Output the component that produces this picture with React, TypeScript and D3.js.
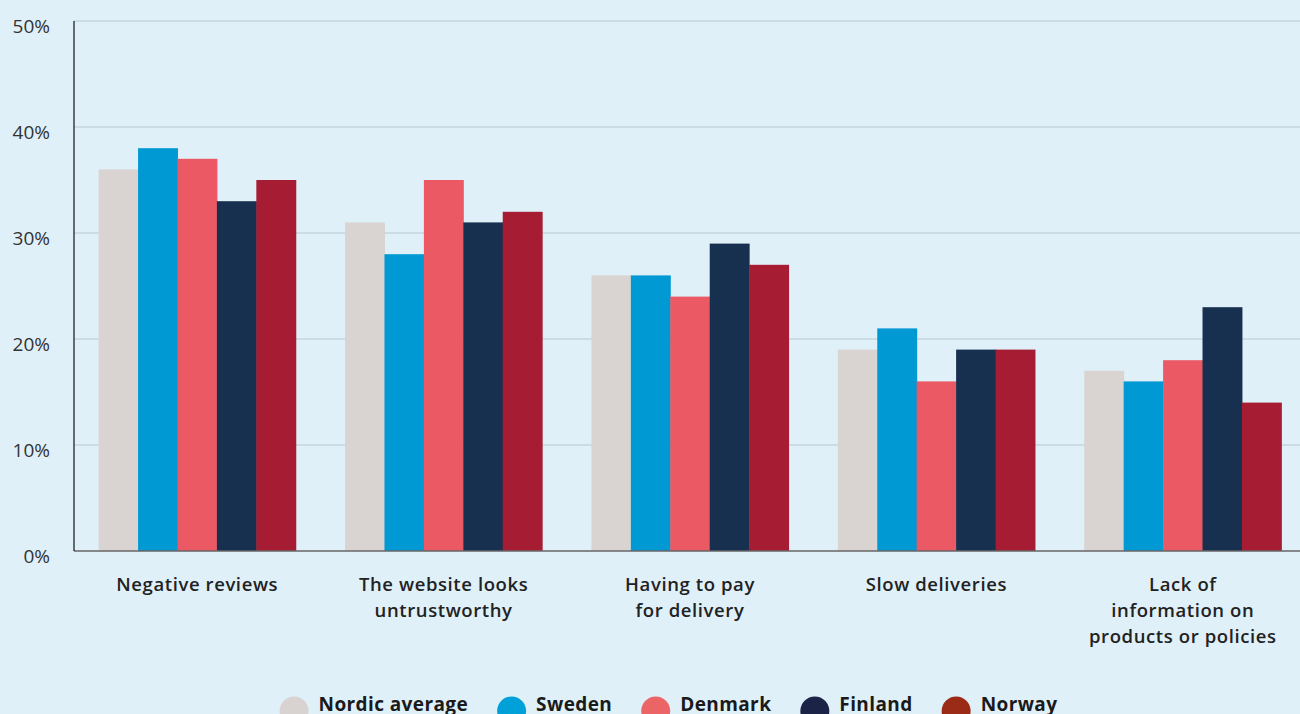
import React, { useEffect, useRef } from "react";
import * as d3 from "d3";

const categories: string[][] = [
  ["Negative reviews"],
  ["The website looks", "untrustworthy"],
  ["Having to pay", "for delivery"],
  ["Slow deliveries"],
  ["Lack of", "information on", "products or policies"],
];
const seriesNames = ["Nordic average", "Sweden", "Denmark", "Finland", "Norway"];
const nordicAverage = [36, 31, 26, 19, 17];
const sweden = [38, 28, 26, 21, 16];
const denmark = [37, 35, 24, 16, 18];
const finland = [33, 31, 29, 19, 23];
const norway = [35, 32, 27, 19, 14];
const yTicks = [0, 10, 20, 30, 40, 50];

const barColors = ["#D9D4D1", "#0099D3", "#EB5A64", "#17304F", "#A61C33"];
const legendColors = ["#D8D3D0", "#00A0D8", "#EB6466", "#1B2447", "#9B2A16"];

const W = 1300;
const H = 714;
const margin = { left: 74, right: -6, top: 21, bottom: 163 };
const FONT = "'Open Sans', sans-serif";

export default function App() {
  const legendRef = useRef<SVGGElement>(null);
  const values = [nordicAverage, sweden, denmark, finland, norway];

  const x0 = d3
    .scaleBand<number>()
    .domain(categories.map((_, i) => i))
    .range([margin.left, W - margin.right])
    .paddingInner(0.2)
    .paddingOuter(0.1);
  const x1 = d3
    .scaleBand<number>()
    .domain(seriesNames.map((_, i) => i))
    .range([0, x0.bandwidth()]);
  const y = d3.scaleLinear().domain([0, 50]).range([H - margin.bottom, margin.top]);

  useEffect(() => {
    const g = d3.select(legendRef.current);
    if (!g.node()) return;
    const items = g.selectAll<SVGGElement, unknown>("g.item").nodes();
    const r = 14.5;
    const gapCT = 10;
    const gapTC = 29;
    const widths = items.map((n) => (n.querySelector("text") as SVGTextElement).getComputedTextLength());
    const total = widths.reduce((a, w) => a + 2 * r + gapCT + w, 0) + gapTC * (items.length - 1);
    let xPos = 668.5 - total / 2;
    items.forEach((n, i) => {
      d3.select(n).attr("transform", `translate(${xPos},0)`);
      xPos += 2 * r + gapCT + widths[i] + gapTC;
    });
  }, []);

  return (
    <svg width={W} height={H} style={{ display: "block", position: "absolute", left: 0, top: 0, background: "#E0F0F9" }}>
      <rect x={0} y={0} width={W} height={H} fill="#E0F0F9" />
      {yTicks.map((t) => (
        <g key={t}>
          {t > 0 && (
            <line x1={margin.left} x2={W} y1={y(t)} y2={y(t)} stroke="#B8C8D2" strokeWidth={1} />
          )}
          <text
            x={50}
            y={y(t) + 12}
            textAnchor="end"
            fontFamily={FONT}
            fontSize={19}
            fill="#333"
          >
            {t}%
          </text>
        </g>
      ))}
      {categories.map((_, ci) => (
        <g key={ci} transform={`translate(${x0(ci)},0)`}>
          {seriesNames.map((_, si) => (
            <rect
              key={si}
              x={x1(si)}
              y={y(values[si][ci])}
              width={x1.bandwidth() + 0.5}
              height={y(0) - y(values[si][ci])}
              fill={barColors[si]}
            />
          ))}
        </g>
      ))}
      <line x1={margin.left} x2={W} y1={y(0)} y2={y(0)} stroke="#666" strokeWidth={1.5} />
      <line x1={margin.left} x2={margin.left} y1={margin.top} y2={y(0)} stroke="#111" strokeWidth={1.2} />
      {categories.map((lines, ci) => (
        <text
          key={ci}
          x={(x0(ci) as number) + x0.bandwidth() / 2}
          textAnchor="middle"
          fontFamily={FONT}
          fontSize={18.5}
          fontWeight={600}
          letterSpacing={0.6}
          fill="#222"
        >
          {lines.map((l, li) => (
            <tspan key={li} x={(x0(ci) as number) + x0.bandwidth() / 2} y={591 + li * 26}>
              {l}
            </tspan>
          ))}
        </text>
      ))}
      <g ref={legendRef}>
        {seriesNames.map((name, i) => (
          <g className="item" key={name}>
            <circle cx={14.5} cy={711} r={14.5} fill={legendColors[i]} />
            <text x={39} y={711} fontFamily={FONT} fontSize={19} fontWeight={700} letterSpacing={0.4} fill="#1a1a1a">
              {name}
            </text>
          </g>
        ))}
      </g>
    </svg>
  );
}
